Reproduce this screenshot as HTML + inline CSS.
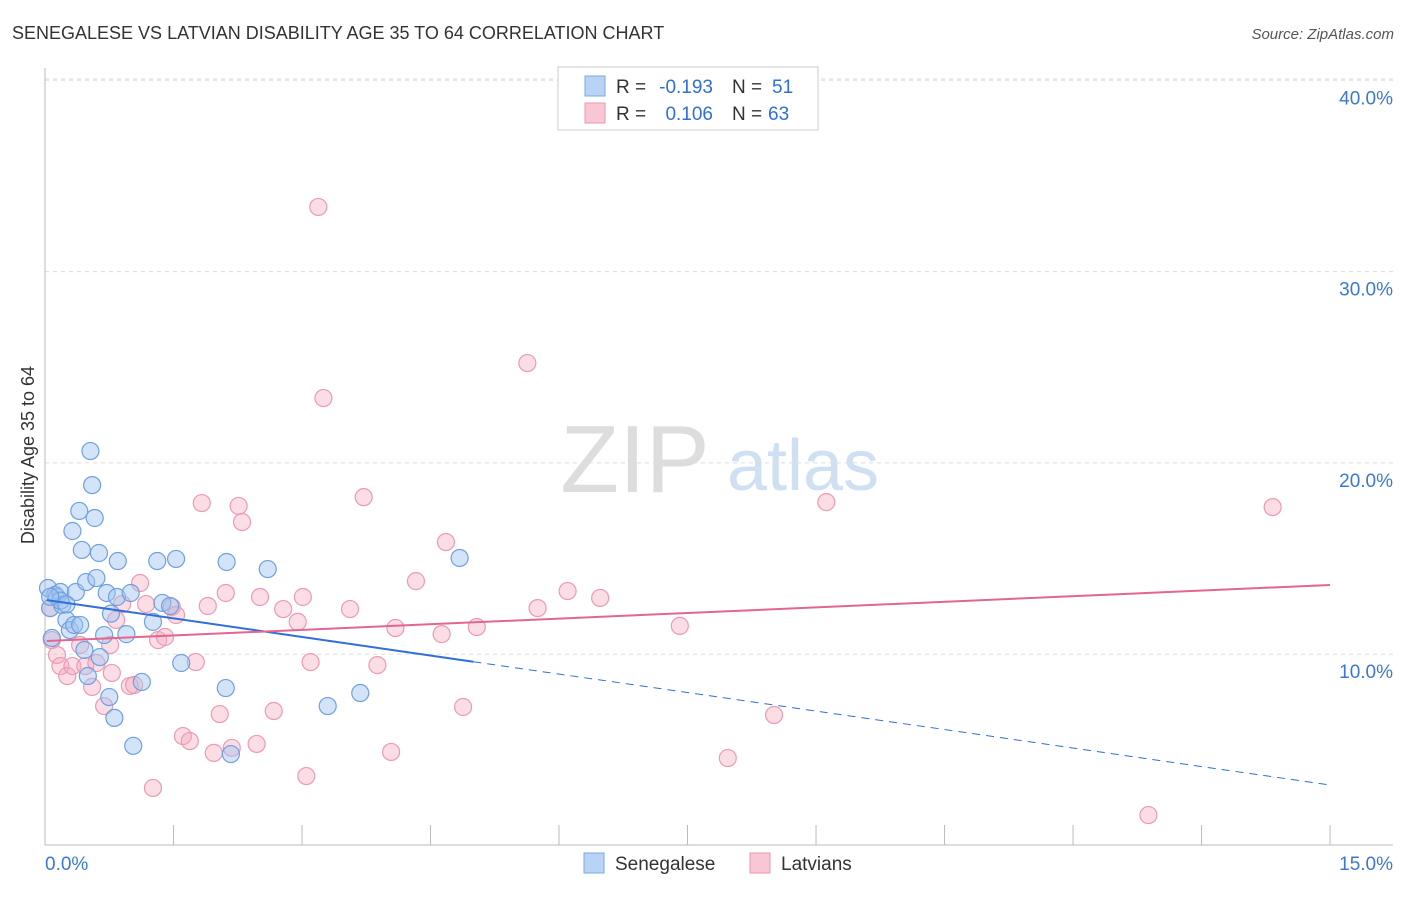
<!DOCTYPE html>
<html><head><meta charset="utf-8"><style>
body{margin:0;background:#fff;font-family:"Liberation Sans",sans-serif;}
svg text{font-family:"Liberation Sans",sans-serif;}
</style></head><body>
<svg width="1406" height="892" viewBox="0 0 1406 892" id="chart">
<text x="12" y="39" font-size="18" fill="#333">SENEGALESE VS LATVIAN DISABILITY AGE 35 TO 64 CORRELATION CHART</text>
<text x="1394" y="39" font-size="15" fill="#555" text-anchor="end" font-style="italic">Source: ZipAtlas.com</text>
<text x="34" y="455" font-size="18" fill="#333" text-anchor="middle" transform="rotate(-90 34 455)">Disability Age 35 to 64</text>
<g>
<text x="635" y="492" font-size="96" fill="#ddd" text-anchor="middle" font-family="Liberation Serif">ZIP</text>
<text x="803" y="490" font-size="72" fill="#cfe0f3" text-anchor="middle">atlas</text>
</g>
<g id="grid"></g>
<g id="axes"></g>
<g id="marks"></g>
<g>
<rect x="558" y="67" width="260" height="63" fill="#fff" stroke="#ccc"/>
<rect x="585" y="76" width="20" height="20" fill="#b8d3f4" stroke="#7aa8e0"/>
<text x="616" y="93" font-size="19" fill="#333">R =</text>
<text x="713" y="93" font-size="19" fill="#2f6fd6" text-anchor="end">-0.193</text>
<text x="732" y="93" font-size="19" fill="#333">N =</text>
<text x="772" y="93" font-size="19" fill="#2f6fd6">51</text>
<rect x="585" y="103" width="20" height="20" fill="#f8c6d4" stroke="#eb97b0"/>
<text x="616" y="120" font-size="19" fill="#333">R =</text>
<text x="713" y="120" font-size="19" fill="#2f6fd6" text-anchor="end">0.106</text>
<text x="732" y="120" font-size="19" fill="#333">N =</text>
<text x="768" y="120" font-size="19" fill="#2f6fd6">63</text>
</g>
<g>
<rect x="584" y="853" width="20" height="20" fill="#b8d3f4" stroke="#7aa8e0"/>
<text x="615" y="870" font-size="19" fill="#333">Senegalese</text>
<rect x="750" y="853" width="20" height="20" fill="#f8c6d4" stroke="#eb97b0"/>
<text x="781" y="870" font-size="19" fill="#333">Latvians</text>
</g>
</svg>
<script>
const blueX=[0.035,0.06,0.08,0.12,0.14,0.18,0.20,0.25,0.29,0.32,0.34,0.36,0.40,0.41,0.43,0.46,0.48,0.50,0.53,0.55,0.58,0.60,0.63,0.64,0.69,0.72,0.75,0.77,0.81,0.84,0.85,0.95,1.00,1.03,1.13,1.26,1.31,1.37,1.46,1.53,1.59,2.12,2.11,2.17,2.60,3.30,3.68,4.84,0.18,0.06,0.25];
const blueY=[13.46,12.41,10.85,13.10,12.99,13.25,12.57,11.79,11.26,16.44,11.53,13.25,17.49,11.53,15.45,10.22,13.77,8.86,20.62,18.84,17.12,13.98,15.29,9.85,11.00,13.20,7.76,12.12,6.67,12.99,14.87,11.05,13.20,5.21,8.55,11.69,14.87,12.68,12.52,14.98,9.54,14.82,8.23,4.78,14.45,7.29,7.97,15.03,12.8,13.0,12.6];
const pinkX=[0.06,0.08,0.14,0.18,0.26,0.32,0.41,0.47,0.55,0.60,0.69,0.76,0.78,0.83,0.90,0.99,1.04,1.11,1.18,1.32,1.40,1.48,1.53,1.61,1.69,1.76,1.83,1.90,1.97,2.04,2.11,2.18,2.26,2.30,2.47,2.51,2.67,2.78,2.95,3.01,3.05,3.10,3.19,3.25,3.56,3.72,3.88,4.04,4.09,4.33,4.63,4.68,4.88,5.04,5.63,5.75,6.10,6.48,7.41,7.97,8.51,9.12,12.88,14.33,1.26];
const pinkY=[12.41,10.74,9.96,9.38,8.86,9.38,10.48,9.38,8.29,9.54,7.29,10.48,9.02,11.79,12.62,8.34,8.39,13.72,12.62,10.74,10.90,12.47,12.05,5.72,5.46,9.59,17.90,12.52,4.84,6.87,13.20,5.10,17.75,16.91,5.31,12.99,7.03,12.36,11.69,12.99,3.63,9.59,33.38,23.39,12.36,18.21,9.43,4.89,11.37,13.82,11.05,15.86,7.24,11.42,25.22,12.41,13.30,12.94,11.48,4.57,6.82,17.95,1.59,17.69,3.01];
const blueTrend=[12.83,3.16];
const blueSolidEnd=5.0;
const pinkTrend=[10.69,13.62];
const yTicks=[10,20,30,40];
const xTickLabels=["0.0%","15.0%"];

const NS="http://www.w3.org/2000/svg";
const sx=v=>45+v*85.67;
const sy=v=>845.5-v*19.13;
function mk(tag,attrs,parent){const e=document.createElementNS(NS,tag);for(const k in attrs)e.setAttribute(k,attrs[k]);parent.appendChild(e);return e;}
const gridG=document.getElementById('grid'),axesG=document.getElementById('axes'),marksG=document.getElementById('marks');
yTicks.forEach(t=>{
 const l=mk('line',{x1:45,x2:1393,y1:sy(t),y2:sy(t),stroke:'#ddd','stroke-dasharray':'4,4'},gridG);
 
 
 const tx=mk('text',{x:1393,y:sy(t)+24,'font-size':19,fill:'#3a78d4','text-anchor':'end'},axesG);
 tx.textContent=t.toFixed(1)+'%';
 
 
});
const topLine=mk('line',{x1:45,x2:1393,y1:79,y2:79,stroke:'#ddd','stroke-dasharray':'4,4'},gridG);


const ya=mk('line',{x1:45,x2:45,y1:68,y2:845,stroke:'#bbb'},axesG);


const xa=mk('line',{x1:45,x2:1393,y1:845,y2:845,stroke:'#bbb'},axesG);


for(let i=0;i<=10;i++){
 const tk=mk('line',{x1:sx(i*1.5),x2:sx(i*1.5),y1:825,y2:845,stroke:'#bbb'},axesG);
 
 
}
const xl0=mk('text',{x:45,y:870,'font-size':19,fill:'#3a78d4'},axesG);xl0.textContent=xTickLabels[0];


const xl1=mk('text',{x:1393,y:870,'font-size':19,fill:'#3a78d4','text-anchor':'end'},axesG);xl1.textContent=xTickLabels[1];



pinkX.forEach((x,i)=>{
 const c=mk('circle',{cx:sx(x),cy:sy(pinkY[i]),r:8.5,fill:'rgba(244,170,192,0.4)',stroke:'#ec9ab3','stroke-width':1.2},marksG);
 
 
});
blueX.forEach((x,i)=>{
 const c=mk('circle',{cx:sx(x),cy:sy(blueY[i]),r:8.5,fill:'rgba(160,195,240,0.45)',stroke:'#6fa0e0','stroke-width':1.2},marksG);
 
 
});
const lerp=(a,b,x)=>a+(b-a)*x/15;
const bs=mk('line',{x1:sx(0.02),y1:sy(blueTrend[0]),x2:sx(blueSolidEnd),y2:sy(lerp(blueTrend[0],blueTrend[1],blueSolidEnd)),stroke:'#2f6fd6','stroke-width':2},marksG);


const bd=mk('line',{x1:sx(blueSolidEnd),y1:sy(lerp(blueTrend[0],blueTrend[1],blueSolidEnd)),x2:sx(15),y2:sy(blueTrend[1]),stroke:'#2f6fd6','stroke-width':1,'stroke-dasharray':'8,6'},marksG);


const pl=mk('line',{x1:sx(0.02),y1:sy(pinkTrend[0]),x2:sx(15),y2:sy(pinkTrend[1]),stroke:'#e2668f','stroke-width':2},marksG);


</script>
</body></html>
